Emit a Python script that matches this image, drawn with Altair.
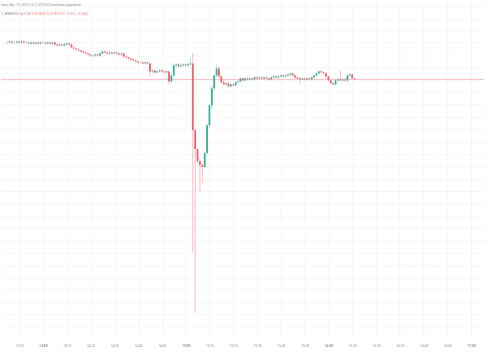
import altair as alt
import pandas as pd

# 1-minute candles, 13:45 .. 16:11 UTC, Mar 19 2023
open_ = [23.74, 23.74, 23.75, 23.74, 23.74, 23.75, 23.74, 23.75, 23.74, 23.74,
         23.73, 23.74, 23.73, 23.74, 23.73, 23.74, 23.74, 23.73, 23.74, 23.73,
         23.74, 23.72, 23.71, 23.72, 23.71, 23.72, 23.73, 23.72, 23.69, 23.68,
         23.67, 23.66, 23.65, 23.64, 23.63, 23.62, 23.61, 23.61, 23.62, 23.61,
         23.63, 23.65, 23.64, 23.63, 23.64, 23.63, 23.64, 23.63, 23.62, 23.63,
         23.60, 23.59, 23.58, 23.57, 23.56, 23.55, 23.54, 23.54, 23.53, 23.54,
         23.53, 23.45, 23.46, 23.44, 23.45, 23.46, 23.45, 23.44, 23.45, 23.35,
         23.41, 23.51, 23.52, 23.50, 23.51, 23.52, 23.51, 23.52, 23.53, 22.86,
         22.67, 22.55, 22.51, 22.49, 22.63, 22.91, 23.11, 23.28, 23.41, 23.48,
         23.40, 23.34, 23.32, 23.33, 23.30, 23.32, 23.31, 23.34, 23.35, 23.38,
         23.36, 23.38, 23.37, 23.38, 23.37, 23.39, 23.38, 23.39, 23.38, 23.39,
         23.38, 23.37, 23.39, 23.40, 23.39, 23.40, 23.41, 23.40, 23.41, 23.42,
         23.43, 23.41, 23.39, 23.38, 23.37, 23.38, 23.37, 23.38, 23.37, 23.39,
         23.41, 23.43, 23.45, 23.44, 23.43, 23.40, 23.36, 23.33, 23.32, 23.36,
         23.37, 23.36, 23.37, 23.36, 23.41, 23.42, 23.38]
high = [23.75, 23.76, 23.76, 23.75, 23.76, 23.76, 23.76, 23.76, 23.75, 23.75,
        23.75, 23.75, 23.75, 23.75, 23.75, 23.75, 23.75, 23.75, 23.75, 23.75,
        23.75, 23.73, 23.73, 23.73, 23.74, 23.74, 23.74, 23.73, 23.70, 23.69,
        23.68, 23.67, 23.66, 23.65, 23.64, 23.63, 23.62, 23.63, 23.63, 23.64,
        23.66, 23.66, 23.65, 23.65, 23.65, 23.65, 23.65, 23.64, 23.64, 23.64,
        23.61, 23.60, 23.59, 23.58, 23.57, 23.56, 23.55, 23.55, 23.55, 23.55,
        23.54, 23.47, 23.47, 23.46, 23.47, 23.47, 23.46, 23.46, 23.46, 23.42,
        23.53, 23.53, 23.53, 23.53, 23.53, 23.53, 23.54, 23.59, 23.63, 22.88,
        22.68, 22.58, 22.53, 22.64, 22.92, 23.12, 23.31, 23.42, 23.52, 23.50,
        23.41, 23.36, 23.34, 23.34, 23.33, 23.33, 23.35, 23.36, 23.39, 23.39,
        23.39, 23.39, 23.39, 23.39, 23.40, 23.40, 23.40, 23.40, 23.40, 23.40,
        23.39, 23.40, 23.41, 23.41, 23.41, 23.42, 23.42, 23.42, 23.43, 23.44,
        23.44, 23.42, 23.40, 23.39, 23.39, 23.39, 23.39, 23.39, 23.40, 23.42,
        23.44, 23.46, 23.46, 23.45, 23.44, 23.41, 23.37, 23.34, 23.37, 23.38,
        23.46, 23.38, 23.38, 23.42, 23.43, 23.43, 23.38]
low = [23.73, 23.73, 23.73, 23.73, 23.73, 23.73, 23.73, 23.73, 23.73, 23.72,
       23.72, 23.72, 23.72, 23.72, 23.72, 23.73, 23.72, 23.72, 23.72, 23.72,
       23.71, 23.70, 23.70, 23.70, 23.70, 23.71, 23.71, 23.68, 23.67, 23.66,
       23.65, 23.64, 23.63, 23.62, 23.61, 23.60, 23.59, 23.60, 23.60, 23.60,
       23.62, 23.63, 23.62, 23.62, 23.62, 23.62, 23.62, 23.61, 23.61, 23.59,
       23.58, 23.57, 23.56, 23.55, 23.54, 23.53, 23.53, 23.52, 23.52, 23.52,
       23.41, 23.43, 23.43, 23.43, 23.44, 23.44, 23.43, 23.43, 23.32, 23.33,
       23.39, 23.49, 23.49, 23.49, 23.50, 23.50, 23.50, 23.51, 21.63, 21.02,
       22.53, 22.24, 22.33, 22.48, 22.61, 22.89, 23.08, 23.26, 23.39, 23.39,
       23.33, 23.31, 23.30, 23.29, 23.29, 23.30, 23.30, 23.33, 23.34, 23.35,
       23.35, 23.36, 23.36, 23.36, 23.36, 23.37, 23.37, 23.37, 23.37, 23.37,
       23.36, 23.36, 23.38, 23.38, 23.38, 23.39, 23.39, 23.39, 23.40, 23.40,
       23.40, 23.38, 23.37, 23.32, 23.36, 23.36, 23.36, 23.36, 23.36, 23.38,
       23.40, 23.42, 23.43, 23.42, 23.39, 23.35, 23.32, 23.31, 23.31, 23.35,
       23.35, 23.35, 23.35, 23.34, 23.40, 23.38, 23.37]
close = [23.74, 23.75, 23.74, 23.74, 23.75, 23.74, 23.75, 23.74, 23.74, 23.73,
         23.74, 23.73, 23.74, 23.73, 23.74, 23.74, 23.73, 23.74, 23.73, 23.74,
         23.72, 23.71, 23.72, 23.71, 23.72, 23.73, 23.72, 23.69, 23.68, 23.67,
         23.66, 23.65, 23.64, 23.63, 23.62, 23.61, 23.61, 23.62, 23.61, 23.63,
         23.65, 23.64, 23.63, 23.64, 23.63, 23.64, 23.63, 23.62, 23.63, 23.60,
         23.59, 23.58, 23.57, 23.56, 23.55, 23.54, 23.54, 23.53, 23.54, 23.53,
         23.45, 23.46, 23.44, 23.45, 23.46, 23.45, 23.44, 23.45, 23.35, 23.41,
         23.51, 23.52, 23.50, 23.51, 23.52, 23.51, 23.52, 23.53, 22.86, 22.67,
         22.55, 22.51, 22.49, 22.63, 22.91, 23.11, 23.28, 23.41, 23.48, 23.40,
         23.34, 23.32, 23.33, 23.30, 23.32, 23.31, 23.34, 23.35, 23.38, 23.36,
         23.38, 23.37, 23.38, 23.37, 23.39, 23.38, 23.39, 23.38, 23.39, 23.38,
         23.37, 23.39, 23.40, 23.39, 23.40, 23.41, 23.40, 23.41, 23.42, 23.43,
         23.41, 23.39, 23.38, 23.37, 23.38, 23.37, 23.38, 23.37, 23.39, 23.41,
         23.43, 23.45, 23.44, 23.43, 23.40, 23.36, 23.33, 23.32, 23.36, 23.37,
         23.36, 23.37, 23.36, 23.41, 23.42, 23.38, 23.37]

tick_labels = ["13:50", "14:00", "14:10", "14:20", "14:30", "14:40", "14:50",
               "15:00", "15:10", "15:20", "15:30", "15:40", "15:50", "16:00",
               "16:10", "16:20", "16:30", "16:40", "16:50", "17:00"]

header_line1 = "com, Mar 19, 2023 16:11 UTC+0 tarafından yayınlandı"
header_sym = "1, BINANCE"
header_ohlc = "A23.38  Y23.38  D23.37  K23.37  −0.01 (−0.04%)"

GREEN = "#3aae98"
RED = "#f0626c"
GREEN_WICK = "#a3dad0"
RED_WICK = "#f8b3b8"
GRID = "#f6f6f8"
FONT = "Roboto"

times = pd.date_range("2023-03-19 13:45", periods=len(open_), freq="min")
df = pd.DataFrame({
    "t": times.strftime("%Y-%m-%dT%H:%M:%SZ"),
    "open": open_, "high": high, "low": low, "close": close,
})


def dt(h, m, s=0):
    return alt.DateTime(year=2023, month=3, date=19, hours=h, minutes=m,
                        seconds=s, utc=True)


x_values = [dt(int(s[:2]), int(s[3:])) for s in tick_labels]
x_scale = alt.Scale(type="utc", domain=[dt(13, 44, 28), dt(17, 3, 19)])
x_axis = alt.Axis(
    title=None, format="%H:%M", values=x_values, grid=True, gridColor=GRID,
    ticks=False, domain=False, labelFontSize=3.2, labelColor="#8a8d96",
    labelPadding=7.5, labelFont=FONT, labelFlush=False,
    labelFontWeight={"condition": {"test": "utcminutes(datum.value) == 0",
                                   "value": "bold"}, "value": "normal"},
)
y_grid = [round(24.108 - 0.124 * k, 3) for k in range(27)]
y_scale = alt.Scale(domain=[20.79, 24.16], nice=False, zero=False)
y_axis = alt.Axis(title=None, values=y_grid, labels=False, ticks=False,
                  domain=False, grid=True, gridColor=GRID, orient="right")

X = alt.X("t:T", scale=x_scale, axis=x_axis)
up = "datum.close >= datum.open"

base = alt.Chart(df)

wicks = base.mark_rule(strokeWidth=0.9).encode(
    x=X,
    y=alt.Y("low:Q", scale=y_scale, axis=y_axis),
    y2="high:Q",
    color=alt.condition(up, alt.value(GREEN_WICK), alt.value(RED_WICK)),
)

bodies = base.mark_bar(size=1.8).encode(
    x=X,
    y=alt.Y("open:Q", scale=y_scale, axis=y_axis),
    y2="close:Q",
    color=alt.condition(up, alt.value(GREEN), alt.value(RED)),
)

dojis = base.transform_filter("datum.open == datum.close").mark_tick(
    thickness=1, size=1.8, orient="horizontal", color="#9fd8cd"
).encode(x=X, y=alt.Y("open:Q", scale=y_scale, axis=y_axis))

last_df = pd.DataFrame({"price": [close[-1]]})
price_line = alt.Chart(last_df).mark_rule(color="#f6acb2", strokeWidth=0.8).encode(
    y=alt.Y("price:Q", scale=y_scale, axis=y_axis)
)

h1 = alt.Chart(pd.DataFrame({"txt": [header_line1]})).mark_text(
    align="left", baseline="middle", fontSize=3.4, font=FONT, color="#8e919a"
).encode(x=alt.value(0), y=alt.value(4.5), text="txt:N")

h2 = alt.Chart(pd.DataFrame({"txt": [header_sym]})).mark_text(
    align="left", baseline="middle", fontSize=3.4, font=FONT, color="#8e919a"
).encode(x=alt.value(0), y=alt.value(13.5), text="txt:N")

h3 = alt.Chart(pd.DataFrame({"txt": [header_ohlc]})).mark_text(
    align="left", baseline="middle", fontSize=3.4, font=FONT, color="#f07a82"
).encode(x=alt.value(19), y=alt.value(13.5), text="txt:N")

chart = alt.layer(price_line, wicks, bodies, dojis, h1, h2, h3).properties(
    width=485, height=337, padding=0, background="white"
).configure_view(stroke=None)

chart.save("out.html", embed_options={"renderer": "svg", "actions": False})
